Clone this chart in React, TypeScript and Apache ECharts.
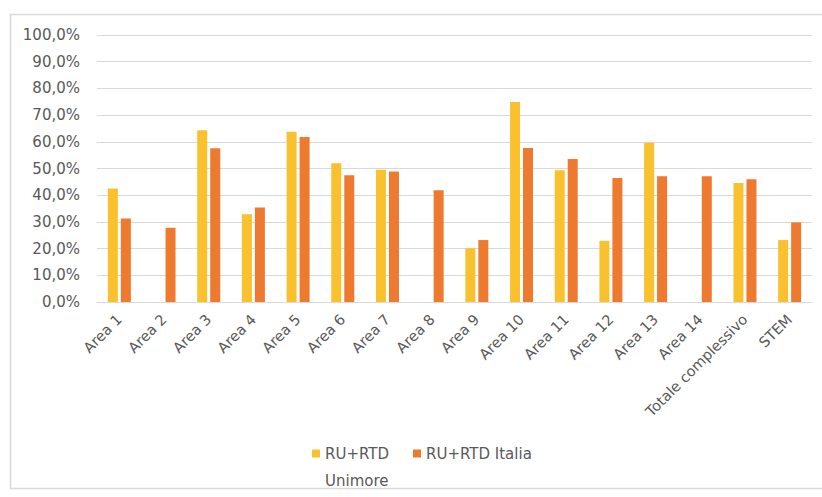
import React, { useEffect, useRef } from "react";
import * as echarts from "echarts";

const categories = [
  "Area 1", "Area 2", "Area 3", "Area 4", "Area 5", "Area 6", "Area 7", "Area 8",
  "Area 9", "Area 10", "Area 11", "Area 12", "Area 13", "Area 14",
  "Totale complessivo", "STEM",
];
const unimore = [42.5, 0, 64.3, 32.9, 63.8, 52.0, 49.5, 0, 20.1, 74.9, 49.3, 22.9, 59.6, 0, 44.6, 23.2];
const italia = [31.3, 27.8, 57.6, 35.4, 61.8, 47.5, 48.9, 41.9, 23.2, 57.7, 53.6, 46.4, 47.1, 47.1, 46.0, 29.8];
const seriesNames = ["RU+RTD Unimore", "RU+RTD Italia"];

const FONT = "'DejaVu Sans', sans-serif";
const TXT = "#595959";

export default function App() {
  const ref = useRef<HTMLDivElement>(null);
  useEffect(() => {
    if (!ref.current) return;
    const chart = echarts.init(ref.current, null, { renderer: "svg" });
    chart.setOption({
      animation: false,
      backgroundColor: "#ffffff",
      textStyle: { fontFamily: FONT },
      graphic: [
        {
          type: "rect",
          shape: { x: 10.5, y: 14.5, width: 830, height: 474 },
          style: { fill: "none", stroke: "#d9d9d9", lineWidth: 1.5 },
          silent: true,
        },
      ],
      grid: { left: 97, right: 10, top: 35, bottom: 195, containLabel: false },
      legend: {
        left: 307,
        top: 408,
        itemWidth: 8,
        itemHeight: 8,
        itemGap: 24,
        icon: "rect",
        textStyle: { color: TXT, fontSize: 15, fontFamily: FONT, lineHeight: 27 },
        formatter: (name: string) => (name === seriesNames[0] ? "\nRU+RTD\nUnimore" : name),
        data: seriesNames,
      },
      xAxis: {
        type: "category",
        data: categories,
        axisLine: { lineStyle: { color: "#d9d9d9", width: 1 } },
        axisTick: { show: false },
        axisLabel: {
          rotate: 45,
          interval: 0,
          margin: 15,
          color: TXT,
          fontSize: 14.5,
          fontFamily: FONT,
        },
      },
      yAxis: {
        type: "value",
        min: 0,
        max: 100,
        interval: 10,
        axisLine: { show: false },
        axisTick: { show: false },
        splitLine: { lineStyle: { color: "#d9d9d9", width: 1 } },
        axisLabel: {
          margin: 17,
          color: TXT,
          fontSize: 15,
          fontFamily: FONT,
          formatter: (v: number) => v.toFixed(1).replace(".", ",") + "%",
        },
      },
      series: [
        {
          name: seriesNames[0],
          type: "bar",
          data: unimore,
          barWidth: 10,
          barGap: "30%",
          itemStyle: { color: "#FAC12E" },
        },
        {
          name: seriesNames[1],
          type: "bar",
          data: italia,
          barWidth: 10,
          itemStyle: { color: "#EE7A2F" },
        },
      ],
    });
    return () => chart.dispose();
  }, []);
  return (
    <div style={{ position: "absolute", left: 0, top: 0 }}>
      <div ref={ref} style={{ width: 822, height: 497 }} />
    </div>
  );
}
